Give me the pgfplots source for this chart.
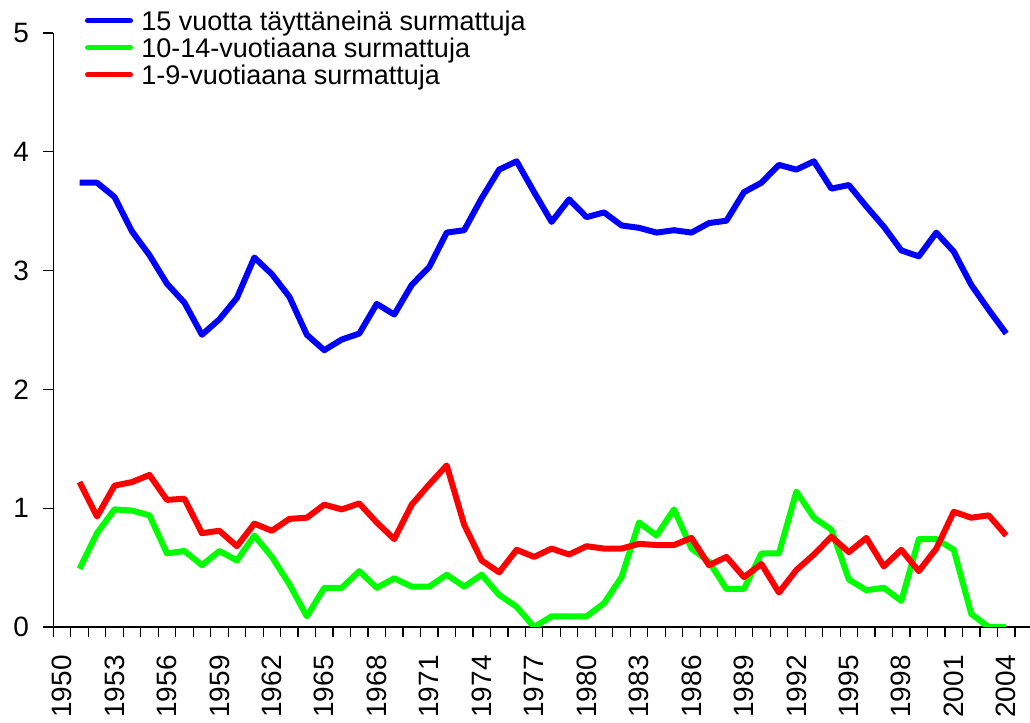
\documentclass[border=0pt]{standalone}
\usepackage{pgfplots}
\pgfplotsset{compat=1.18}
\usepackage{pgfplotstable}
\usepackage{fontspec}
\setmainfont{Liberation Sans}
\pgfplotstableread{
year blue green red
1951 3.74 0.49 1.22
1952 3.74 0.79 0.93
1953 3.62 0.99 1.19
1954 3.33 0.98 1.22
1955 3.13 0.94 1.28
1956 2.89 0.62 1.07
1957 2.73 0.64 1.08
1958 2.46 0.52 0.79
1959 2.59 0.64 0.81
1960 2.77 0.56 0.68
1961 3.11 0.77 0.87
1962 2.97 0.59 0.81
1963 2.78 0.36 0.91
1964 2.46 0.09 0.92
1965 2.33 0.33 1.03
1966 2.42 0.33 0.99
1967 2.47 0.47 1.04
1968 2.72 0.33 0.88
1969 2.63 0.41 0.74
1970 2.88 0.34 1.03
1971 3.03 0.34 1.20
1972 3.32 0.44 1.36
1973 3.34 0.34 0.86
1974 3.61 0.44 0.56
1975 3.85 0.27 0.46
1976 3.92 0.17 0.65
1977 3.66 0.00 0.59
1978 3.41 0.09 0.66
1979 3.60 0.09 0.61
1980 3.45 0.09 0.68
1981 3.49 0.20 0.66
1982 3.38 0.42 0.66
1983 3.36 0.88 0.70
1984 3.32 0.77 0.69
1985 3.34 0.99 0.69
1986 3.32 0.66 0.75
1987 3.40 0.55 0.52
1988 3.42 0.32 0.59
1989 3.66 0.32 0.42
1990 3.74 0.62 0.53
1991 3.89 0.62 0.29
1992 3.85 1.14 0.48
1993 3.92 0.92 0.61
1994 3.69 0.82 0.76
1995 3.72 0.40 0.63
1996 3.54 0.31 0.75
1997 3.37 0.33 0.51
1998 3.17 0.22 0.65
1999 3.12 0.74 0.47
2000 3.32 0.74 0.66
2001 3.16 0.65 0.97
2002 2.88 0.11 0.92
2003 2.67 0.00 0.94
2004 2.47 0.00 0.77
}\data
\begin{document}
\begin{tikzpicture}
\begin{axis}[
  at={(0,0)}, anchor=south west,
  scale only axis, width=488.35pt, height=297pt,
  xmin=1949.5, xmax=2005.36, ymin=0, ymax=5,
  axis x line*=bottom, axis y line*=left,
  axis line style={black, line width=0.6pt, -},
  tick align=outside,
  major tick length=5pt, minor tick length=5pt,
  tick style={black, line width=0.6pt},
  xtick={1950,1953,...,2004},
  minor xtick={1949.5,1950.5,...,2004.5},
  major x tick style={draw=none},
  ytick={0,1,2,3,4,5},
  /pgf/number format/assume math mode=true,
  tick label style={font=\fontsize{14}{16}\selectfont},
  x tick label style={/pgf/number format/1000 sep={}, rotate=90, anchor=east, inner sep=0pt, xshift=-9pt},
  y tick label style={anchor=east, inner sep=0pt, xshift=-7pt},
  legend cell align=left,
  legend style={draw=none, fill=none, inner sep=0pt, outer sep=0pt,
    at={(axis description cs:0.03246,1.03586)}, anchor=north west,
    font=\fontsize{13.5}{15}\selectfont, row sep=0pt, column sep=0pt,
    nodes={inner sep=0pt, text height=9.5pt, text depth=4pt},
    /tikz/every odd column/.append style={column sep=4.2pt}},
  legend image code/.code={\draw[#1, line width=2.4pt, line cap=round] (1.2pt,2.25pt) -- (22.8pt,2.25pt); \path[draw=none, fill=none] (0pt,-1pt) rectangle (24pt,1pt);},
]
\addplot[blue, line width=3pt, line join=round] table[x=year, y=blue] {\data};
\addlegendentry{15 vuotta täyttäneinä surmattuja}
\addplot[color={rgb,255:red,0;green,255;blue,0}, line width=3pt, line join=round] table[x=year, y=green] {\data};
\addlegendentry{10-14-vuotiaana surmattuja}
\addplot[red, line width=3pt, line join=round] table[x=year, y=red] {\data};
\addlegendentry{1-9-vuotiaana surmattuja}
\end{axis}
\pgfresetboundingbox
\path (-26.65pt,-48pt) rectangle (488.35pt,313.5pt);
\end{tikzpicture}
\end{document}
